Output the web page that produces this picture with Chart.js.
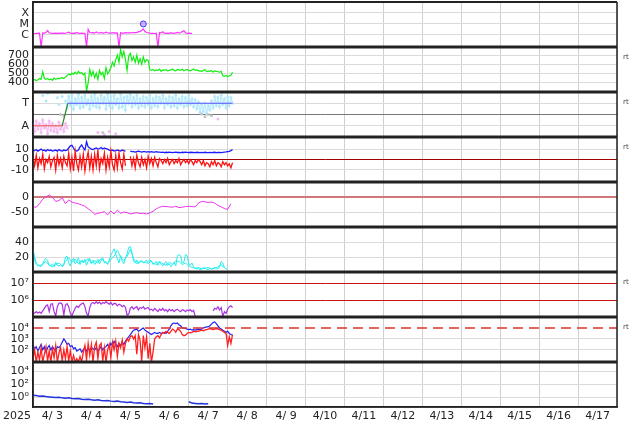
<!DOCTYPE html>
<html>
<head>
<meta charset="utf-8">
<script src="https://cdn.jsdelivr.net/npm/chart.js@4.4.0/dist/chart.umd.min.js"></script>
<style>
  html, body { margin: 0; padding: 0; background: #fff; }
  #wrap { width: 634px; height: 424px; }
</style>
</head>
<body>
<div id="wrap"><canvas id="spaceWx" width="634" height="424"></canvas></div>
<script>
// ==========================================
// DATA (time in hours from 2025-04-03 00:00)
// ==========================================
const hourMax = 360;
const yearLabel = '2025';
const dayLabels = ['4/ 3', '4/ 4', '4/ 5', '4/ 6', '4/ 7', '4/ 8', '4/ 9', '4/10',
                   '4/11', '4/12', '4/13', '4/14', '4/15', '4/16', '4/17'];

// panel 1: X-ray flux (log10 W/m2), 1h steps
const xrayTicks = [-4, -5, -6];
const xrayLabels = ['X', 'M', 'C'];
const xrayFlux = [
  -5.9, -5.87, -5.85, -5.86, -5.84, -7.1, -5.82, -5.84, -5.78, -5.6,
  -5.8, -5.84, -5.86, -5.85, -5.83, -5.86, -5.84, -5.85, -5.82, -5.86,
  -5.84, -5.8, -5.75, -5.83, -5.85, -5.84, -5.86, -5.78, -5.84, -5.85,
  -5.83, -5.85, -5.86, -7.1, -5.5, -5.78, -5.82, -5.8, -5.84, -5.72,
  -5.8, -5.83, -5.78, -5.84, -5.82, -5.75, -5.8, -5.83, -5.84, -5.82,
  -5.8, -5.83, -5.82, -7.1, -5.8, -5.83, -5.84, -5.8, -5.82, -5.81,
  -5.82, -5.8, -5.78, -5.79, -5.77, -5.72, -5.68, -5.6, -5.45, -5.7,
  -5.78, -5.8, -5.84, -5.86, -5.85, -5.87, -5.84, -7.1, -5.78, -5.82,
  -5.72, -5.83, -5.85, -5.84, -5.86, -5.8, -5.85, -5.84, -5.83, -5.78,
  -5.84, -5.8, -5.7, -5.62, -5.8, -5.85, -5.84, -5.86, -5.85
];
const flareHours = [68];
const flareLevels = [-5];

// panel 2: solar wind speed (km/s), 1h steps
const windTicks = [400, 500, 600, 700];
const windLabels = ['400', '500', '600', '700'];
const windSpeed = [
  420, 430, 415, 425, 440, 430, 515, 440,
  430, 440, 425, 435, 420, 445, 430, 440, 435, 445, 450, 440, 455,
  470, 490, 480, 500, 485, 510, 490, 520, 495, 505, 480, 500,
  300, 390,
  540, 470, 520, 450, 500, 430, 530, 480, 510, 440, 560, 490, 520,
  560, 620, 580,
  650, 700, 620, 760, 680, 740, 650,
  530, 690,
  720, 640, 680, 620, 700, 610, 660, 600, 680, 620, 650, 640,
  540, 530, 540, 525, 535, 530, 545, 520, 535, 530, 540,
  525, 530, 535, 545, 530, 525, 540, 535, 530, 545,
  525, 535, 540, 530, 525, 535, 545, 530, 535, 525,
  525, 520, 530, 540, 515, 525, 520, 530, 510, 525, 520, 515, 510, 520,
  470, 465, 475, 460, 470, 475, 510
];

// panel 3: IMF sector (T = toward, A = away)
const sectorTicks = [1, 0, -1];
const sectorLabels = ['T', '', 'A'];
const sectorHours = [0, 18, 21.5, 123];
const sectorValues = [-1, -1, 1, 1];
const towardStart = 20;
const towardAngle = [
  1.2, 0.6, 1.6, 0.8, 1.7, 0.5, 1.4, 0.9, 1.8, 0.6,
  1.5, 0.7, 1.7, 0.9, 1.3, 0.5, 1.6, 0.8, 1.8, 0.7,
  1.4, 0.6, 1.7, 1.0, 1.5, 0.5, 1.8, 0.8, 1.6, 0.6,
  1.7, 0.9, 1.4, 0.6, 1.8, 0.7, 1.5, 0.4, 1.6, 1.0,
  1.8, 0.7, 1.5, 0.9, 1.7, 0.6, 1.4, 0.8, 1.6, 0.7,
  1.5, 0.9, 1.7, 0.6, 1.4, 0.8, 1.6, 0.7, 1.5, 1.0,
  1.7, 0.6, 1.4, 0.9, 1.6, 0.7, 1.5, 0.8, 1.7, 0.6,
  1.4, 0.9, 1.6, 0.7, 1.5, 0.8, 1.7, 0.9, 1.4, 0.7,
  1.3, 0.5, 1.1, 0.2, 0.9, 0.3, 1.0, 0.1, 0.8, 0.4,
  1.2, 0.6, 1.6, 0.8, 1.5, 0.7, 1.7, 0.9, 1.4, 0.6,
  1.6, 0.8, 1.5, 1.0
];
const awayAngle = [
  -0.9, -1.5, -0.6, -1.3, -0.8, -1.6, -0.5, -1.2, -0.9, -1.7,
  -0.6, -1.4, -0.8, -1.5, -1.0, -1.6, -0.7, -1.3, -0.9, -1.5,
  -0.8, -1.2
];
const towardDotHours = [6, 8, 9, 15, 16, 18];
const towardDotValues = [1.7, 1.2, 1.9, 1.5, 0.9, 1.6];
const awayDotHours = [40, 44, 47, 51, 114];
const awayDotValues = [-1.6, -1.8, -1.5, -1.7, -0.4];
const grayDotHours = [17, 19, 43, 104, 106, 108, 110];
const grayDotValues = [0.0, -0.1, -1.6, 0.05, -0.2, 0.0, -0.1];

// panel 4: IMF Bt / Bz (nT), 1h steps
const imfTicks = [10, 0, -10];
const imfLabels = ['10', '0', '-10'];
const imfBt = [
  9, 8.5, 9.5, 8, 9, 10, 8.5, 9, 8, 9.5, 8.5, 9, 8, 8.5, 9, 8, 9.5, 8.5, 8, 9, 8.5, 9,
  11, 13, 13.5, 11,
  8.5, 8, 9, 12, 14,
  11, 9,
  17, 12,
  11, 10, 9.5, 10.5, 11, 10, 10.5, 11.5, 10, 11, 10.5, 10,
  9, 8.5, 9, 8, 8.5, 9, 8.5, 8, 9, 8.5, 8,
  null, null,
  8, 7.5, 7.5, 7, 7.5, 8, 7.5, 7, 7.5, 7.5, 7, 7.5, 7, 7.5, 7, 7, 7.5, 7, 7,
  6.8, 7, 6.6, 6.9, 6.7, 7, 6.8, 6.6, 6.9, 7,
  6.7, 6.8, 6.6, 6.9, 6.7, 7, 6.8, 6.5, 6.9, 6.7,
  6.8, 6.6, 6.9, 6.7, 6.5, 6.8, 6.6, 6.9, 6.7, 6.6,
  6.8, 6.5, 6.7, 6.9, 6.6, 6.8, 6.7, 6.5, 6.8, 7,
  7.2, 7.5, 7.8,
  8.5, 9.5
];
const imfBz = [
  2, -6, 4, -8, 1, -4, 5, -9, 0, -3, 3, -7, -1, 2, -10, 4, -5, 1, -8, 3, -3, -6,
  6, -9, 2, -11, 8, -4, -10, 3, -7, 5, -11, 0,
  7, -8, 3, -10, 5, -6, 9, -9, 1, -4, 6, -10, 2, -7, 8, -5, -10, 4, -8, 6, -3, -9, 5, -6,
  null, null,
  3, -6, 1, -8, 4, -3, -7, 2, -5, 0, -8, 3, -4, 1, -6, 2, -3, -7, 1,
  -1, -4, 0, -3, 1, -5, -2, 0, -4, -1, -3, 1, -5, -2, 0, -3, -1, -4, 0, -2, -5, -1, -3, 0,
  -2, -5, -1, -6, -3, -4, -7, -2, -5, -1, -6, -3, -4, -7, -2, -5, -3, -6, -4,
  -8, -3
];

// panel 5: Dst index (nT), 2h steps
const dstTicks = [0, -50];
const dstLabels = ['0', '-50'];
const dstIndex = [
  -32, -33, -22, -8, 0, 5, -2, -15, -12, -3, -22, -10, -17, -20, -22, -26,
  -30, -38, -45, -55, -52, -50, -47, -57, -45, -54, -42, -52, -48, -50, -54,
  -52, -50, -53, -52, -54, -51, -46, -38, -33, -30, -31, -32, -33, -30, -34,
  -33, -31, -30, -31, -32, -20, -15, -16, -18, -17, -20, -27, -32, -37, -40, -22
];

// panel 6: cyan pair, 1h and 2h steps
const densTicks = [40, 20];
const densLabels = ['40', '20'];
const densA = [
  32, 16, 10, 8, 9, 7, 10, 16, 18, 15,
  9, 8, 11, 7, 13, 9, 8, 10, 7, 9,
  20, 21, 12, 8, 16, 18, 11, 14, 19, 10,
  15, 12, 17, 9, 14, 18, 12, 16, 10, 13,
  17, 11, 15, 19, 12, 14, 10, 16, 22, 27,
  31, 24, 18, 12, 22, 14, 11, 19, 24, 33,
  34, 26, 14, 12, 16, 11, 13, 15, 12, 14,
  16, 11, 13, 15, 10, 12, 14, 9, 13, 11,
  8, 12, 14, 9, 11, 7, 10, 13, 8, 22,
  23, 22, 12, 13, 23, 22, 11, 9, 12, 7,
  5, 4, 5, 3, 4, 6, 5, 4, 3, 5,
  4, 5, 6, 5, 4, 7, 14, 12, 6, 4, 3
];
const densB = [
  28, 12, 8, 11, 14, 9, 7, 10, 12, 8, 14, 19, 13, 17, 11, 16, 13, 18, 11, 15,
  12, 18, 14, 11, 17, 21, 29, 20, 15, 21, 30, 18, 11, 15, 13, 12, 16, 12, 10, 14,
  11, 9, 13, 10, 15, 14, 10, 12, 8, 6, 5, 6, 4, 5, 6, 4, 5, 7, 10, 5
];

// panel 7: electron flux (log10), 1h steps
const elecTicks = [7, 6];
const elecLabels = ['10\u2077', '10\u2076'];
const elecFlux = [
  5.25, 5.2, 5.3, 5.22, 5.28, 5.2, 5.35, 5.5, 5.65, 5.7, 5.3,
  5.75, 5.78,
  5.3, 5.05,
  5.6, 5.8, 5.82, 5.75,
  5.1,
  5.7, 5.78, 5.6,
  5.2, 5.05,
  5.3, 5.5, 5.65, 5.55, 5.7,
  5.78, 5.82, 5.6, 5.2,
  5.05,
  5.55, 5.8, 5.85, 5.78, 5.9, 5.8, 5.88, 5.75, 5.85, 5.8, 5.9, 5.82, 5.75, 5.85, 5.7,
  5.8, 5.78, 5.65, 5.75, 5.7, 5.6, 5.68, 5.55,
  5.1, 5.15,
  5.5, 5.6, 5.45, 5.55, 5.6, 5.4, 5.55, 5.5, 5.6, 5.45, 5.5, 5.55, 5.4,
  5.45, 5.35, 5.5, 5.4, 5.3, 5.45, 5.38, 5.5, 5.35, 5.42, 5.3, 5.45,
  5.35, 5.42, 5.3, 5.4, 5.45, 5.35, 5.3, 5.42, 5.38, 5.3, 5.4, 5.35, 5.42, 5.3, 5.38,
  5.0,
  null, null, null, null, null, null, null, null, null, null,
  5.35, 5.5, 5.45, 5.6, 5.4, 5.55,
  5.0,
  5.3, 5.2, 5.45, 5.6, 5.65, 5.55
];

// panel 8: particle flux (log10), 1h steps
const partTicks = [4, 3, 2];
const partLabels = ['10\u2074', '10\u00b3', '10\u00b2'];
const partThreshold = 4;
const partBlue = [
  2.4, 2.1, 2.3, 1.9, 2.2, 2.5, 2.0, 2.3, 1.8, 2.2, 2.4, 2.0, 2.3, 2.1, 1.9, 2.3, 2.2, 2.4,
  2.7, 3.0, 2.8, 2.5, 2.6,
  2.3, 2.4, 2.1, 2.2, 1.9, 2.0, 2.1, 1.8, 2.0, 2.2, 1.9, 2.1, 2.0, 2.2,
  2.1, 2.0, 2.2, 1.9, 2.1, 2.3, 2.0, 2.2,
  2.3, 2.5, 2.2, 2.6, 2.4, 2.8, 2.5, 2.3, 2.6, 2.4, 2.7, 2.5,
  2.8, 3.0, 3.2, 3.4,
  3.6, 3.8, 3.85, 3.9, 3.7, 3.8,
  3.9, 4.0, 3.8, 3.7, 3.6, 3.5,
  3.4, 3.5, 3.6, 3.5, 3.5, 3.6, 3.5, 3.55, 3.6, 3.5, 3.7, 3.9,
  4.2, 4.4, 4.45, 4.4, 4.45, 4.3, 4.2, 4.0,
  4.0, 3.95, 3.9, 3.85, 3.9, 3.8, 3.85, 3.8, 3.85, 3.9, 3.85,
  3.9, 4.0, 4.05, 4.1, 4.1, 4.2, 4.35,
  4.5, 4.55, 4.4, 4.2,
  4.0, 3.9, 3.8, 3.7, 3.6, 3.7, 3.5, 3.4, 3.35
];
const partRed = [
  1.2, 2.0, 0.9, 1.8, 1.1, 2.2, 0.9, 1.6, 2.3, 1.0, 1.9, 0.9, 2.1, 1.3, 2.4, 0.9, 1.7, 2.2, 1.0, 2.0, 1.2, 2.3,
  1.0, 1.9, 0.9, 1.5, 0.9, 1.2, 0.9, 1.4, 0.9,
  1.8, 2.4, 1.1, 2.6, 1.5, 2.5, 0.9, 2.3, 2.7, 1.2, 2.4, 2.6, 1.0, 2.2, 0.9, 2.0,
  2.5, 1.3, 2.7, 2.0, 2.8, 1.4, 2.6, 2.2, 2.9, 1.8,
  2.6, 3.0, 2.8, 3.2, 3.3, 3.0,
  3.3, 1.6, 3.4, 2.9, 1.0, 3.3, 2.2, 3.2, 1.2, 2.6, 0.9, 1.8, 3.0,
  3.2, 3.3, 3.1, 3.4, 3.6, 3.5, 3.7, 3.6, 3.5,
  3.7, 3.9, 3.8, 3.6, 3.9, 3.85, 3.7, 3.4,
  3.3, 3.35, 3.5, 3.6, 3.55, 3.6, 3.7, 3.65, 3.7,
  3.7, 3.75, 3.8, 3.75, 3.8, 3.85, 3.9, 3.95, 3.9, 3.85, 3.9, 3.95, 3.9, 3.85, 3.8, 3.7,
  3.6, 3.5, 2.4, 3.2, 2.6, 3.4
];

// panel 9: low-energy flux (log10), 2h steps
const lowTicks = [4, 2, 0];
const lowLabels = ['10\u2074', '10\u00b2', '10\u2070'];
const lowFlux = [
  0.3, 0.25, 0.15, 0.2, 0.1, 0.05, 0.0, -0.05, 0.0, -0.1, -0.15, -0.1, -0.2,
  -0.25, -0.2, -0.3, -0.35, -0.3, -0.4, -0.45, -0.4, -0.5, -0.55, -0.5, -0.6,
  -0.65, -0.6, -0.7, -0.75, -0.8, -0.75, -0.85, -0.9, -0.85, -0.95, -1.0, -0.95, -1.05,
  null, null, null, null, null, null, null, null, null, null,
  -0.7, -0.9, -0.95, -1.0, -0.95, -1.05, -1.0
];

const rtPanels = ['p2', 'p3', 'p4', 'p7', 'p8'];

// ==========================================
// HELPERS
// ==========================================
const series = (start, step, values) => values.map((v, i) => ({ x: start + i * step, y: v }));
const pairs = (xs, ys) => xs.map((x, i) => ({ x, y: ys[i] }));

const line = (axis, data, color, width) => ({
  yAxisID: axis, data, borderColor: color, backgroundColor: color,
  borderWidth: width || 1, pointRadius: 0, tension: 0, fill: false, spanGaps: false
});
const dots = (axis, data, color, r) => ({
  yAxisID: axis, data, showLine: false, pointRadius: r, pointBorderWidth: 0,
  backgroundColor: color, borderColor: color
});

const GRID = '#dadada';
function panel(weight, min, max, ticks, labels, colors, widths) {
  return {
    type: 'linear', position: 'left', stack: 'wx', stackWeight: 1, weight,
    min, max, offset: false,
    afterBuildTicks: s => { s.ticks = ticks.map(v => ({ value: v })); },
    afterFit: s => { s.width = 33; s.paddingTop = 0; s.paddingBottom = 0; },
    ticks: { padding: 4, autoSkip: false, color: '#222', font: { size: 11 },
             callback: (v, i) => labels[i] },
    grid: { drawTicks: false,
            color: c => (colors && colors[c.index]) || GRID,
            lineWidth: c => (widths && widths[c.index]) || 1 },
    border: { color: '#222', width: 1.5 }
  };
}

// ==========================================
// FRAME PLUGIN: panel separators, side notes
// ==========================================
const panelFrame = {
  id: 'panelFrame',
  afterDraw(chart) {
    const { ctx, chartArea: a } = chart;
    ctx.save();
    ctx.strokeStyle = '#222';
    ['p1', 'p2', 'p3', 'p4', 'p5', 'p6', 'p7', 'p8', 'p9'].forEach((id, i) => {
      const s = chart.scales[id];
      ctx.lineWidth = i === 0 ? 2 : 3;
      ctx.beginPath();
      ctx.moveTo(a.left, s.top);
      ctx.lineTo(a.right, s.top);
      ctx.stroke();
    });
    ctx.lineWidth = 1.5;
    ctx.beginPath();
    ctx.moveTo(a.left, a.top);
    ctx.lineTo(a.left, a.bottom);
    ctx.lineTo(a.right, a.bottom);
    ctx.lineTo(a.right, a.top);
    ctx.stroke();

    ctx.fillStyle = '#444';
    ctx.font = '7px "DejaVu Sans"';
    ctx.textBaseline = 'middle';
    ctx.textAlign = 'left';
    rtPanels.forEach(id => ctx.fillText('rt', a.right + 6, chart.scales[id].top + 10));

    ctx.fillStyle = '#222';
    ctx.font = '11px "DejaVu Sans"';
    ctx.textAlign = 'center';
    ctx.fillText(yearLabel, a.left - 16, a.bottom + 9);
    ctx.restore();
  }
};

// ==========================================
// CHART
// ==========================================
Chart.defaults.font.family = '"DejaVu Sans", Verdana, sans-serif';
Chart.defaults.color = '#222';

const xTicks = [];
for (let h = 0; h <= hourMax; h += 12) xTicks.push(h);

new Chart(document.getElementById('spaceWx'), {
  type: 'line',
  data: {
    datasets: [
      // p1
      Object.assign(dots('p1', pairs(flareHours, flareLevels), 'rgba(190,120,255,0.6)', 3),
                    { pointBorderWidth: 1, borderColor: '#3344ff' }),
      line('p1', series(0, 1, xrayFlux), '#ff33ff', 1.2),
      // p2
      line('p2', series(0, 1, windSpeed), '#11ee11', 1.2),
      // p3
      Object.assign(line('p3', pairs(sectorHours, sectorValues), '#5555ff', 1.2), {
        segment: { borderColor: c => ['#ee6666', '#338833', '#5555ff'][c.p0DataIndex] }
      }),
      dots('p3', pairs(grayDotHours, grayDotValues), '#c4c4c4', 1.5),
      dots('p3', pairs(awayDotHours, awayDotValues), '#f4b8f0', 1.5),
      dots('p3', pairs(towardDotHours, towardDotValues), '#b0e8fb', 1.5),
      Object.assign(line('p3', series(0, 1, awayAngle), 'rgba(244,184,240,0.85)', 1.3),
                    { pointRadius: 1.6, pointBorderWidth: 0 }),
      Object.assign(line('p3', series(towardStart, 1, towardAngle), 'rgba(176,232,251,0.85)', 1.3),
                    { pointRadius: 1.6, pointBorderWidth: 0 }),
      // p4
      line('p4', series(0, 1, imfBz), '#ff1010', 1.3),
      line('p4', series(0, 1, imfBt), '#1a1aff', 1.3),
      // p5
      line('p5', series(0, 2, dstIndex), '#ee33ee', 1),
      // p6
      line('p6', series(0, 1, densA), '#22eeee', 1),
      line('p6', series(0, 2, densB), '#22eeee', 1),
      // p7
      line('p7', series(0, 1, elecFlux), '#aa33dd', 1.2),
      // p8
      Object.assign(line('p8', pairs([0, hourMax], [partThreshold, partThreshold]), '#e03030', 1.5),
                    { borderDash: [10, 6] }),
      line('p8', series(0, 1, partRed), '#ff2020', 1.3),
      line('p8', series(0, 1, partBlue), '#2222ee', 1.2),
      // p9
      line('p9', series(0, 2, lowFlux), '#2233dd', 1.5)
    ]
  },
  options: {
    responsive: false,
    animation: false,
    events: [],
    layout: { autoPadding: false, padding: { top: 2, right: 17, left: 0, bottom: 0 } },
    plugins: { legend: { display: false }, tooltip: { enabled: false } },
    scales: {
      x: {
        type: 'linear', position: 'bottom', min: 0, max: hourMax,
        afterBuildTicks: s => { s.ticks = xTicks.map(v => ({ value: v })); },
        afterFit: s => { s.height = 17; s.paddingLeft = 0; s.paddingRight = 0; },
        ticks: { autoSkip: false, maxRotation: 0, padding: 3, color: '#222', font: { size: 11 },
                 callback: v => (v % 24 === 12 ? dayLabels[(v - 12) / 24] : '') },
        grid: { drawTicks: false,
                color: c => (c.tick && c.tick.value % 24 === 0 ? '#d0d0d0' : 'rgba(0,0,0,0)') },
        border: { color: '#222', width: 1.5 }
      },
      p1: panel(9, -7.1, -3.0, xrayTicks, xrayLabels),
      p2: panel(8, 290, 790, windTicks, windLabels),
      p3: panel(7, -2, 2, sectorTicks, sectorLabels, [GRID, '#777', GRID]),
      p4: panel(6, -21.5, 21.5, imfTicks, imfLabels, [GRID, '#a00000', GRID]),
      p5: panel(5, -95, 46, dstTicks, dstLabels, ['#d07878', GRID], [2, 1]),
      p6: panel(4, 0, 60, densTicks, densLabels),
      p7: panel(3, 4.98, 7.68, elecTicks, elecLabels, ['#cc1111', '#cc1111']),
      p8: panel(2, 0.9, 5.0, partTicks, partLabels, ['rgba(0,0,0,0)', GRID, GRID]),
      p9: panel(1, -1.5, 5.4, lowTicks, lowLabels)
    }
  },
  plugins: [panelFrame]
});
</script>
</body>
</html>
